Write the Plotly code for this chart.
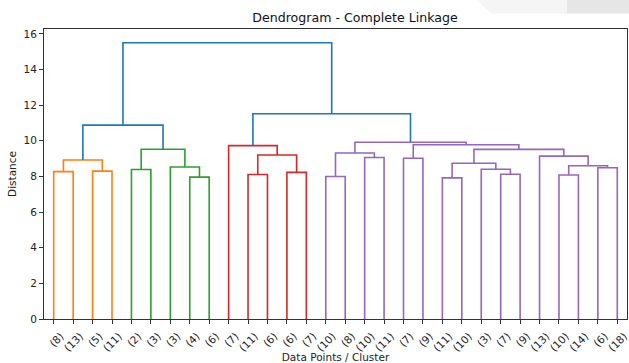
import plotly.graph_objects as go

# ---- data ----
leaf_labels = ["(8)", "(13)", "(5)", "(11)", "(2)", "(3)", "(3)", "(4)", "(6)", "(7)",
               "(11)", "(6)", "(6)", "(7)", "(10)", "(8)", "(10)", "(11)", "(7)", "(9)",
               "(11)", "(10)", "(3)", "(7)", "(9)", "(13)", "(10)", "(14)", "(6)", "(18)"]

# merges: nodes 0..29 are leaves, merge k creates node 30+k
merge_left = [0, 2, 30, 4, 7, 6, 33, 10, 12, 37, 9, 14, 16, 41, 18, 20, 23, 22, 45, 26, 28, 49, 25, 48, 44, 43, 32, 40, 56]
merge_right = [1, 3, 31, 5, 8, 34, 35, 11, 13, 38, 39, 15, 17, 42, 19, 21, 24, 46, 47, 27, 29, 50, 51, 52, 53, 54, 36, 55, 57]
merge_height = [8.27, 8.30, 8.92, 8.39, 7.96, 8.53, 9.53, 8.11, 8.23, 9.20, 9.73, 8.00, 9.06, 9.32,
                9.02, 7.92, 8.12, 8.40, 8.74, 8.08, 8.49, 8.60, 9.14, 9.52, 9.78, 9.92, 10.88, 11.52, 15.50]
merge_group = ["C1", "C1", "C1", "C2", "C2", "C2", "C2", "C3", "C3", "C3", "C3",
               "C4", "C4", "C4", "C4", "C4", "C4", "C4", "C4", "C4", "C4", "C4", "C4", "C4", "C4", "C4",
               "C0", "C0", "C0"]

group_colors = {"C0": "#1f77b4", "C1": "#ff7f0e", "C2": "#2ca02c", "C3": "#d62728", "C4": "#9467bd"}

# ---- dendrogram geometry (scipy style: leaf i at 5 + 10 i) ----
n_leaves = len(leaf_labels)
node_x = {i: 5 + 10 * i for i in range(n_leaves)}
node_h = {i: 0.0 for i in range(n_leaves)}
segs = {g: ([], []) for g in group_colors}
for k, (a, b, h, g) in enumerate(zip(merge_left, merge_right, merge_height, merge_group)):
    xa, xb = node_x[a], node_x[b]
    xs, ys = segs[g]
    xs += [xa, xa, xb, xb, None]
    ys += [node_h[a], h, h, node_h[b], None]
    node_x[n_leaves + k] = (xa + xb) / 2
    node_h[n_leaves + k] = h

fig = go.Figure()
for g in ["C1", "C2", "C3", "C4", "C0"]:
    xs, ys = segs[g]
    fig.add_trace(go.Scatter(x=xs, y=ys, mode="lines",
                             line=dict(color=group_colors[g], width=1.6),
                             hoverinfo="skip", showlegend=False))

font_family = "DejaVu Sans"
ymax = max(merge_height) * 1.05

fig.update_layout(
    width=629, height=363,
    margin=dict(l=44, r=2, t=29, b=44, autoexpand=False),
    paper_bgcolor="white", plot_bgcolor="white",
    font=dict(family=font_family, size=10.5, color="#222222"),
    title=dict(text="Dendrogram - Complete Linkage", x=0.5335, xref="paper",
               y=1 - 18 / 363, yref="container", xanchor="center", yanchor="middle",
               font=dict(size=12.6, color="#111111")),
    showlegend=False,
)
fig.update_xaxes(
    range=[0, 10 * n_leaves], tickmode="array",
    tickvals=[5 + 10 * i for i in range(n_leaves)], ticktext=leaf_labels,
    tickangle=-45, ticklabelshift=7, ticklabelstandoff=2, ticklabeloverflow="allow",
    showgrid=False, zeroline=False,
    showline=True, linecolor="#333333", linewidth=1, mirror=True,
    ticks="outside", ticklen=4, tickwidth=1, tickcolor="#333333",
    title=dict(text="Data Points / Cluster", standoff=5, font=dict(size=10.5)),
)
fig.update_yaxes(
    range=[0, ymax], tickmode="array", tickvals=list(range(0, 17, 2)),
    showgrid=False, zeroline=False,
    showline=True, linecolor="#333333", linewidth=1, mirror=True,
    ticks="outside", ticklen=4, tickwidth=1, tickcolor="#333333",
    title=dict(text="Distance", standoff=4, font=dict(size=10.5)),
)

# faint grey band visible in the top-right corner of the reference
def px(xp):
    return (xp - 44) / 583.0

def py(yp):
    return (319.3 - yp) / 290.3

fig.add_shape(type="path", xref="paper", yref="paper", layer="above",
              path=f"M {px(477)},{py(0)} L {px(629)},{py(0)} L {px(629)},{py(13.5)} L {px(491)},{py(13.5)} Z",
              fillcolor="#f5f5f5", line=dict(width=0))
fig.add_shape(type="rect", xref="paper", yref="paper", layer="above",
              x0=px(567), x1=px(629), y0=py(13.5), y1=py(0),
              fillcolor="#e6e6e6", line=dict(width=0))

fig.write_html("out.html", config={"displayModeBar": False},
               post_script="document.body.style.margin='0';document.body.style.overflow='hidden';")
